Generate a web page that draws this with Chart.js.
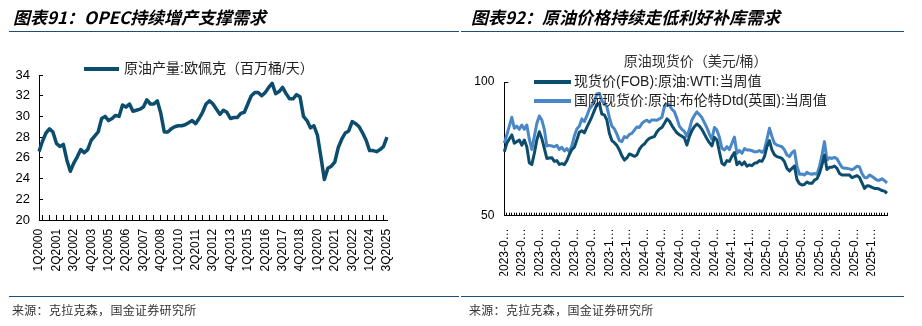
<!DOCTYPE html>
<html lang="zh-CN">
<head>
<meta charset="utf-8">
<title>OPEC产量与原油现货价</title>
<script src="https://cdn.jsdelivr.net/npm/chart.js@4.4.1/dist/chart.umd.min.js"></script>
<style>
  body { margin: 0; background: #fff; }
  #page { position: relative; width: 922px; height: 326px; overflow: hidden; }
  .title { position: absolute; top: 8px; font: italic bold 17px/17px "Noto Sans CJK SC", sans-serif; color: #000; white-space: nowrap; }
  .rule { position: absolute; height: 1px; background: #1d4d78; }
  .source { position: absolute; top: 304px; font: 12px/12px "Noto Sans CJK SC", sans-serif; color: #333; letter-spacing: 0.3px; white-space: nowrap; }
  canvas { position: absolute; top: 0; }
</style>
</head>
<body>
<div id="page">
  <canvas id="opecChart" width="461" height="326" style="left:0"></canvas>
  <canvas id="priceChart" width="461" height="326" style="left:461px"></canvas>
  <div class="title" style="left:13px">图表91：OPEC持续增产支撑需求</div>
  <div class="title" style="left:471px">图表92：原油价格持续走低利好补库需求</div>
  <div class="rule" style="left:9px;top:31px;width:450px"></div>
  <div class="rule" style="left:461px;top:31px;width:443px"></div>
  <div class="rule" style="left:9px;top:296px;width:450px"></div>
  <div class="rule" style="left:461px;top:296px;width:443px"></div>
  <div class="source" style="left:12px">来源：克拉克森，国金证券研究所</div>
  <div class="source" style="left:469px">来源：克拉克森，国金证券研究所</div>
</div>
<script>
// Data
const opecLabel = '原油产量:欧佩克（百万桶/天）';
const skippedQuarters = ['4Q2023', '4Q2024'];
const opecOutput = [
  26.6, 27.6, 28.4, 28.8, 28.5, 27.4, 27.1, 27.3, 25.8, 24.7,
  25.5, 26.1, 26.8, 26.5, 26.8, 27.7, 28.1, 28.5, 29.8, 30.0,
  29.6, 29.8, 30.1, 30.0, 31.1, 30.9, 31.2, 30.5, 30.6, 30.7,
  30.9, 31.6, 31.2, 31.2, 31.5, 30.3, 28.5, 28.5, 28.8, 29.0,
  29.1, 29.1, 29.2, 29.4, 29.6, 29.3, 29.8, 30.4, 31.2, 31.5,
  31.2, 30.7, 30.2, 30.6, 30.4, 29.8, 29.9, 29.9, 30.3, 30.4,
  31.2, 32.0, 32.3, 32.3, 32.0, 32.3, 32.8, 33.2, 32.2, 32.4,
  32.8, 32.2, 31.7, 31.7, 32.1, 31.9, 30.0, 29.6, 28.9, 29.1,
  28.2, 26.1, 23.9, 25.0, 25.2, 25.6, 27.0, 27.8, 28.4, 28.6,
  29.5, 29.3, 29.0, 28.4, 27.7, 26.7, 26.7, 26.6, 26.8, 27.1,
  28.0
];

const priceTitle = '原油现货价（美元/桶）';
const wtiLabel = '现货价(FOB):原油:WTI:当周值';
const brentLabel = '国际现货价:原油:布伦特Dtd(英国):当周值';
const firstWeek = '2023-01-06';
const wtiPrice = [
  73.9, 77.1, 78.7, 80.2, 77.1, 77.7, 78.3, 76.4, 78.3, 75.8,
  69.8, 69.1, 73.3, 78.3, 81.4, 78.9, 75.2, 71.4, 71.6, 71.7,
  70.3, 70.6, 69.2, 69.5, 69.1, 70.6, 72.9, 74.7, 75.6, 78.3,
  81.2, 81.8, 81.0, 83.0, 85.0, 87.0, 89.3, 91.6, 92.0, 88.0,
  87.7, 85.8, 80.8, 78.1, 77.3, 76.3, 74.6, 72.4, 70.8, 71.6,
  73.1, 72.7, 72.2, 72.7, 74.8, 76.1, 76.8, 78.1, 78.9, 79.3,
  79.6, 81.3, 82.4, 83.0, 84.5, 86.2, 85.4, 83.7, 82.3, 81.0,
  80.3, 79.7, 79.1, 76.4, 79.6, 81.8, 83.3, 84.3, 83.5, 82.3,
  80.5, 78.8, 77.3, 76.1, 79.3, 78.3, 73.9, 69.6, 69.0, 70.6,
  70.3, 72.2, 73.6, 69.1, 70.1, 69.0, 70.1, 68.5, 69.0, 68.7,
  69.6, 69.8, 70.6, 70.3, 72.1, 75.8, 78.1, 74.6, 72.8, 72.1,
  71.8, 71.4, 70.2, 67.7, 66.7, 67.7, 68.6, 63.5, 62.0, 61.5,
  61.7, 62.6, 62.1, 62.1, 63.3, 63.8, 65.8, 69.0, 72.7, 67.3,
  68.1, 68.1, 68.6, 67.7, 65.8, 65.2, 65.2, 65.2, 65.2, 64.2,
  64.6, 65.0, 64.3, 62.3, 60.2, 61.2, 61.1, 60.6, 60.2, 60.2,
  59.9, 59.4, 59.2, 58.4
];
const brentPrice = [
  77.1, 80.2, 83.5, 86.8, 82.7, 83.5, 82.3, 83.9, 82.3, 83.9,
  78.6, 74.8, 79.6, 84.5, 87.3, 85.8, 82.3, 76.1, 76.3, 76.1,
  75.8, 76.3, 74.8, 75.6, 74.2, 75.1, 73.9, 76.1, 79.8, 82.4,
  83.5, 86.2, 85.2, 87.3, 89.9, 91.1, 92.9, 95.5, 95.8, 93.0,
  91.8, 90.8, 86.8, 83.5, 82.5, 80.5, 78.1, 77.7, 79.6, 79.2,
  80.4, 80.8, 82.0, 83.2, 83.0, 84.5, 85.3, 85.7, 85.0, 85.8,
  85.8, 85.7, 86.2, 86.8, 90.8, 91.8, 91.4, 89.8, 88.9, 86.4,
  83.5, 82.3, 81.5, 79.7, 82.3, 85.8, 87.5, 88.8, 87.8, 86.7,
  84.8, 82.9, 80.5, 78.6, 83.0, 82.0, 79.3, 75.2, 74.6, 75.8,
  74.7, 77.1, 79.4, 73.3, 74.4, 73.3, 75.1, 74.6, 74.6, 74.3,
  73.9, 73.9, 74.4, 73.7, 74.6, 78.6, 82.7, 79.6, 77.1, 76.4,
  76.1, 75.8, 74.6, 72.7, 72.1, 73.6, 74.3, 68.5, 65.5, 65.6,
  65.2, 66.2, 65.7, 65.5, 65.8, 65.5, 68.3, 72.7, 77.7, 70.8,
  71.7, 71.4, 71.8, 71.3, 69.6, 68.1, 67.7, 67.7, 67.5, 67.2,
  67.7, 68.5, 68.2, 65.8, 64.3, 64.2, 65.2, 64.7, 64.0, 63.3,
  63.3, 63.8, 63.1, 62.3
];

// Category labels
const opecQuarters = [];
for (let y = 2000; y <= 2025; y++) {
  for (let q = 1; q <= 4; q++) {
    if (y === 2025 && q > 3) break;
    const label = q + 'Q' + y;
    if (!skippedQuarters.includes(label)) opecQuarters.push(label);
  }
}

const priceWeeks = [];
const weekStart = new Date(firstWeek + 'T00:00:00Z').getTime();
for (let i = 0; i < wtiPrice.length; i++) {
  priceWeeks.push(new Date(weekStart + i * 7 * 86400000).toISOString().slice(0, 10));
}

// Styles
const LATIN = '"Liberation Sans", Arial, sans-serif';
const CJK = '"Liberation Sans", "Noto Sans CJK SC", sans-serif';
const DARK_BLUE = '#0c4d6e';
const LIGHT_BLUE = '#4a87c7';

// Legend drawn inside the plot: a line sample followed by the series name
const lineLegend = {
  id: 'lineLegend',
  afterDatasetsDraw(chart, args, opts) {
    const { ctx, chartArea } = chart;
    ctx.save();
    ctx.font = opts.font;
    ctx.textBaseline = 'middle';
    chart.data.datasets.forEach((ds, i) => {
      const x = chartArea.left + opts.x;
      const y = chartArea.top + opts.y + i * opts.rowGap;
      ctx.strokeStyle = ds.borderColor;
      ctx.lineWidth = opts.lineWidth;
      ctx.beginPath();
      ctx.moveTo(x, y);
      ctx.lineTo(x + opts.lineLength, y);
      ctx.stroke();
      ctx.fillStyle = opts.color;
      ctx.fillText(ds.label, x + opts.lineLength + opts.gap, y);
    });
    ctx.restore();
  }
};

// Left chart: OPEC output
new Chart(document.getElementById('opecChart'), {
  type: 'line',
  data: {
    labels: opecQuarters,
    datasets: [{
      label: opecLabel,
      data: opecOutput,
      borderColor: DARK_BLUE,
      borderWidth: 3.5,
      borderJoinStyle: 'round',
      pointRadius: 0,
      tension: 0
    }]
  },
  options: {
    responsive: false,
    animation: false,
    layout: { padding: { left: 0, right: 74, top: 75, bottom: 46 } },
    plugins: {
      legend: { display: false },
      tooltip: { enabled: false },
      lineLegend: { font: '14px ' + CJK, color: '#222', x: 45, y: -6, rowGap: 19, lineLength: 35, lineWidth: 4, gap: 5 }
    },
    scales: {
      x: {
        grid: {
          drawOnChartArea: false,
          tickLength: -5,
          tickColor: (ctx) => (ctx.index % 2 === 1 ? '#000' : 'rgba(0,0,0,0)')
        },
        border: { color: '#000' },
        ticks: {
          autoSkip: false,
          maxRotation: 90,
          minRotation: 90,
          padding: 13.8,
          color: '#000',
          font: { family: LATIN, size: 12 },
          callback(value, index) {
            return index % 5 === 0 ? this.getLabelForValue(value) : '';
          }
        },
        afterFit: (scale) => { scale.height = 60; }
      },
      y: {
        min: 20,
        max: 34,
        grid: { drawOnChartArea: false, tickLength: -4, tickColor: '#000' },
        border: { color: '#000' },
        ticks: { stepSize: 2, padding: 13, color: '#000', font: { family: LATIN, size: 13 } },
        afterFit: (scale) => { scale.width = 39; }
      }
    }
  },
  plugins: [lineLegend]
});

// Right chart: weekly crude prices
new Chart(document.getElementById('priceChart'), {
  type: 'line',
  data: {
    labels: priceWeeks,
    datasets: [{
      label: wtiLabel,
      data: wtiPrice,
      borderColor: DARK_BLUE,
      borderWidth: 3,
      borderJoinStyle: 'round',
      pointRadius: 0,
      tension: 0
    }, {
      label: brentLabel,
      data: brentPrice,
      borderColor: LIGHT_BLUE,
      borderWidth: 3,
      borderJoinStyle: 'round',
      pointRadius: 0,
      tension: 0
    }]
  },
  options: {
    responsive: false,
    animation: false,
    layout: { padding: { left: 0, right: 35, top: 53.3, bottom: 50.3 } },
    plugins: {
      legend: { display: false },
      tooltip: { enabled: false },
      title: {
        display: true,
        text: priceTitle,
        fullSize: false,
        color: '#333',
        font: { family: CJK, size: 14, weight: 'normal' },
        padding: { top: 0, bottom: 11.9 }
      },
      lineLegend: { font: '14px ' + CJK, color: '#222', x: 29.7, y: 0, rowGap: 19, lineLength: 37, lineWidth: 4, gap: 3 }
    },
    scales: {
      x: {
        grid: { drawOnChartArea: false, tickLength: -3, tickColor: '#000' },
        border: { color: '#000' },
        ticks: {
          autoSkip: false,
          maxRotation: 90,
          minRotation: 90,
          padding: 15.6,
          color: '#000',
          font: { family: LATIN, size: 12 },
          callback(value, index) {
            return index % 7 === 0 ? this.getLabelForValue(value).slice(0, 6) + '…' : '';
          }
        },
        afterFit: (scale) => { scale.height = 60; }
      },
      y: {
        min: 50,
        max: 100,
        grid: { drawOnChartArea: false, tickLength: -4, tickColor: '#000' },
        border: { color: '#000' },
        ticks: { stepSize: 50, padding: 14, color: '#000', font: { family: LATIN, size: 12 } },
        afterFit: (scale) => { scale.width = 43.3; }
      }
    }
  },
  plugins: [lineLegend]
});
</script>
</body>
</html>
